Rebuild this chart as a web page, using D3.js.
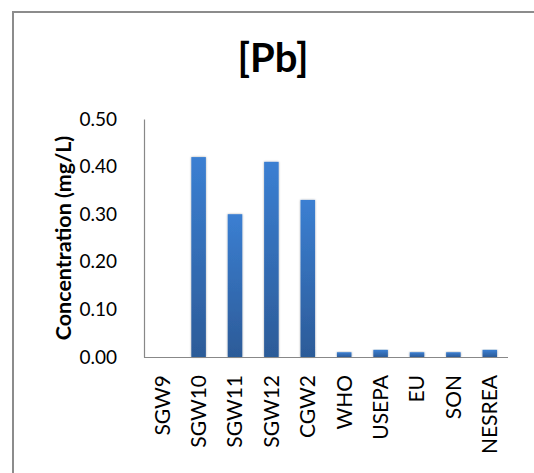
<!DOCTYPE html>
<html>
<head>
<meta charset="utf-8">
<script src="https://cdn.jsdelivr.net/npm/d3@7"></script>
<style>
  html, body { margin: 0; padding: 0; background: #fff; overflow: hidden; }
  svg { display: block; }
</style>
</head>
<body>
<script>
// Lead concentrations at sampling sites and guideline limits
const categories = ["SGW9", "SGW10", "SGW11", "SGW12", "CGW2", "WHO", "USEPA", "EU", "SON", "NESREA"];
const values = [0.00, 0.42, 0.30, 0.41, 0.33, 0.01, 0.015, 0.01, 0.01, 0.015];
const yTicks = [0.00, 0.10, 0.20, 0.30, 0.40, 0.50];
const title = "[Pb]";
const yTitle = "Concentration (mg/L)";

const W = 534, H = 473;
const plot = { left: 144, right: 508, top: 119, bottom: 357 };
const font = "Lato, 'Open Sans', sans-serif";

const svg = d3.select("body").append("svg")
  .attr("width", W).attr("height", H);

// chart frame (only the left and top edges fall inside the view)
svg.append("path")
  .attr("d", `M13,${H}V12H${W}`)
  .attr("fill", "none")
  .attr("stroke", "#8c8c8c").attr("stroke-width", 2);

const defs = svg.append("defs");
const grad = defs.append("linearGradient")
  .attr("id", "barGrad").attr("x1", 0).attr("y1", 0).attr("x2", 0).attr("y2", 1);
grad.append("stop").attr("offset", "0%").attr("stop-color", "#3b7fd2");
grad.append("stop").attr("offset", "100%").attr("stop-color", "#2c5b98");

const shadow = defs.append("filter").attr("id", "barShadow")
  .attr("x", "-50%").attr("y", "-10%").attr("width", "200%").attr("height", "120%");
shadow.append("feGaussianBlur").attr("in", "SourceAlpha").attr("stdDeviation", 1.2).attr("result", "b");
shadow.append("feComponentTransfer").attr("in", "b").attr("result", "s")
  .append("feFuncA").attr("type", "linear").attr("slope", 0.35);
const merge = shadow.append("feMerge");
merge.append("feMergeNode").attr("in", "s");
merge.append("feMergeNode").attr("in", "SourceGraphic");

const x = d3.scaleBand()
  .domain(categories)
  .range([plot.left, plot.right])
  .paddingInner(0.6).paddingOuter(0.3);

const y = d3.scaleLinear()
  .domain([0, 0.5])
  .range([plot.bottom, plot.top]);

// title
svg.append("text")
  .attr("x", 273).attr("y", 72)
  .attr("text-anchor", "middle")
  .attr("font-family", font)
  .attr("font-weight", "bold")
  .attr("font-size", 40)
  .attr("fill", "#000")
  .text(title);

// bars
svg.append("g").selectAll("rect")
  .data(categories.map((c, i) => ({ c, v: values[i] })))
  .join("rect")
  .attr("x", d => x(d.c))
  .attr("y", d => y(d.v))
  .attr("width", x.bandwidth())
  .attr("height", d => y(0) - y(d.v))
  .attr("fill", "url(#barGrad)")
  .attr("filter", "url(#barShadow)");

// y axis
const yAxis = d3.axisLeft(y)
  .tickValues(yTicks)
  .tickFormat(d3.format(".2f"))
  .tickSize(0)
  .tickPadding(27);
const gy = svg.append("g")
  .attr("transform", `translate(${plot.left},0)`)
  .call(yAxis);
gy.select(".domain").attr("stroke", "#888").attr("stroke-width", 1.2);
gy.selectAll("text")
  .attr("font-family", font)
  .attr("font-size", 19)
  .attr("fill", "#000");

// x axis
const xAxis = d3.axisBottom(x).tickSize(0).tickPadding(0);
const gx = svg.append("g")
  .attr("transform", `translate(0,${plot.bottom})`)
  .call(xAxis);
gx.select(".domain").attr("stroke", "#888").attr("stroke-width", 1.2)
  .attr("d", `M${plot.left},0.5H${plot.right}`);
gx.selectAll("text")
  .attr("font-family", font)
  .attr("font-size", 21)
  .attr("fill", "#000")
  .attr("text-anchor", "end")
  .attr("dy", "0.35em")
  .attr("transform", "translate(0,18) rotate(-90)")
  .attr("y", 0).attr("x", 0);

// y axis title
svg.append("text")
  .attr("transform", `translate(63,238) rotate(-90)`)
  .attr("text-anchor", "middle")
  .attr("dy", "0.35em")
  .attr("font-family", font)
  .attr("font-weight", "bold")
  .attr("font-size", 21.5)
  .attr("fill", "#000")
  .text(yTitle);
</script>
</body>
</html>
